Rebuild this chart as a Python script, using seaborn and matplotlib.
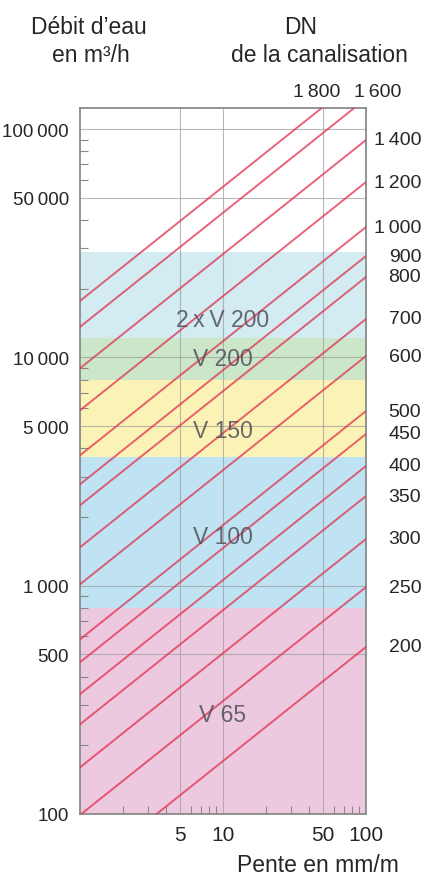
import numpy as np
import pandas as pd
from matplotlib import pyplot as plt
import seaborn as sns

# DN lines: flow (m3/h) read at slope 1 mm/m and at slope 100 mm/m
dn = [200, 250, 300, 350, 400, 450, 500, 600, 700, 800, 900, 1000, 1200, 1400, 1600, 1800]
q_at_1 = [54, 99, 160, 247, 335, 462, 582, 1014, 1473, 2250, 2780, 3724, 5864, 8960, 13600, 17670]
q_at_100 = [539, 986, 1602, 2471, 3345, 4620, 5823, 10140, 14730, 22500, 27800, 37240, 58640, 89600, 136000, 176700]
slope_ends = [1, 100]

# pump bands
band_names = ["V 65", "V 100", "V 150", "V 200", "2\u2009x\u2009V 200"]
band_low = [100, 800, 3650, 8000, 12200]
band_high = [800, 3650, 8000, 12200, 29000]
band_label_y = [274, 1650, 4770, 9840, 14700]
band_colors = ["#EDC9E0", "#BFE3F2", "#FBF3B5", "#CBE6C8", "#D2ECF2"]

y_ticks = [100, 500, 1000, 5000, 10000, 50000, 100000]
y_labels = ["100", "500", "1\u2009000", "5\u2009000", "10\u2009000", "50\u2009000", "100\u2009000"]
x_ticks = [5, 10, 50, 100]

sns.set_style("white")
plt.rcParams['font.family'] = ['Liberation Sans', 'DejaVu Sans']

fig = plt.figure(figsize=(4.3, 8.78), dpi=100)
ax = fig.add_axes([80/430, 1-815/878, 286/430, 706/878])
ax.set_xscale("log")
ax.set_yscale("log")
ax.set_xlim(1, 100)
ax.set_ylim(100, 123700)

for lo, hi, c in zip(band_low, band_high, band_colors):
    ax.axhspan(lo, hi, color=c, lw=0, zorder=0)

for yv in y_ticks[1:]:
    ax.axhline(yv, color="#9a9a9a", lw=0.8, alpha=0.7, zorder=1)
for xv in x_ticks[:-1]:
    ax.axvline(xv, color="#9a9a9a", lw=0.8, alpha=0.7, zorder=1)

lines = pd.DataFrame({
    "dn": np.repeat(dn, 2),
    "pente": slope_ends * len(dn),
    "debit": [v for pair in zip(q_at_1, q_at_100) for v in pair],
})
for d, g in lines.groupby("dn"):
    sns.lineplot(data=g, x="pente", y="debit", ax=ax, color="#E0304F",
                 lw=1.4, alpha=0.75, zorder=3)

for name, yv in zip(band_names, band_label_y):
    ax.text(10, yv, name, ha="center", va="center", fontsize=16.5,
            color="#50505a", alpha=0.85, zorder=4)

# DN labels on the right
for d, q in zip(dn[:-2], q_at_100[:-2]):
    lab = f"{d // 1000}\u2009{d % 1000:03d}" if d >= 1000 else str(d)
    ax.text(1.193, q, lab, transform=ax.get_yaxis_transform(), ha="right",
            va="center", fontsize=14)
ax.text(0.829, 1.023, "1\u2009800", transform=ax.transAxes, ha="center",
        va="center", fontsize=14)
ax.text(1.042, 1.023, "1\u2009600", transform=ax.transAxes, ha="center",
        va="center", fontsize=14)

ax.set_yticks(y_ticks)
ax.set_yticklabels(y_labels, fontsize=13.5)
ax.set_xticks(x_ticks)
ax.set_xticklabels([str(v) for v in x_ticks], fontsize=15)
ax.tick_params(axis="both", which="major", length=0, pad=8)
ax.tick_params(axis="y", which="major", pad=8)
ax.tick_params(axis="both", which="minor", direction="in", length=6,
               width=0.8, color="#888888", labelleft=False, labelbottom=False)
ax.tick_params(axis="y", which="minor", left=True)
ax.tick_params(axis="x", which="minor", bottom=True)
ax.set_xlabel("")
ax.set_ylabel("")
for s in ax.spines.values():
    s.set_color("#8a8a8a")
    s.set_linewidth(1.3)

fig.text(89/430, 1-28/878, "Débit d\u2019eau", ha="center", va="center", fontsize=16.5)
fig.text(91/430, 1-55/878, "en m\u00b3/h", ha="center", va="center", fontsize=16.5)
fig.text(301/430, 1-28/878, "DN", ha="center", va="center", fontsize=16.5)
fig.text(319/430, 1-55/878, "de la canalisation", ha="center", va="center", fontsize=16.5)
fig.text(318/430, 1-866/878, "Pente en mm/m", ha="center", va="center", fontsize=16.5)

fig.savefig("out.png", dpi=100)
